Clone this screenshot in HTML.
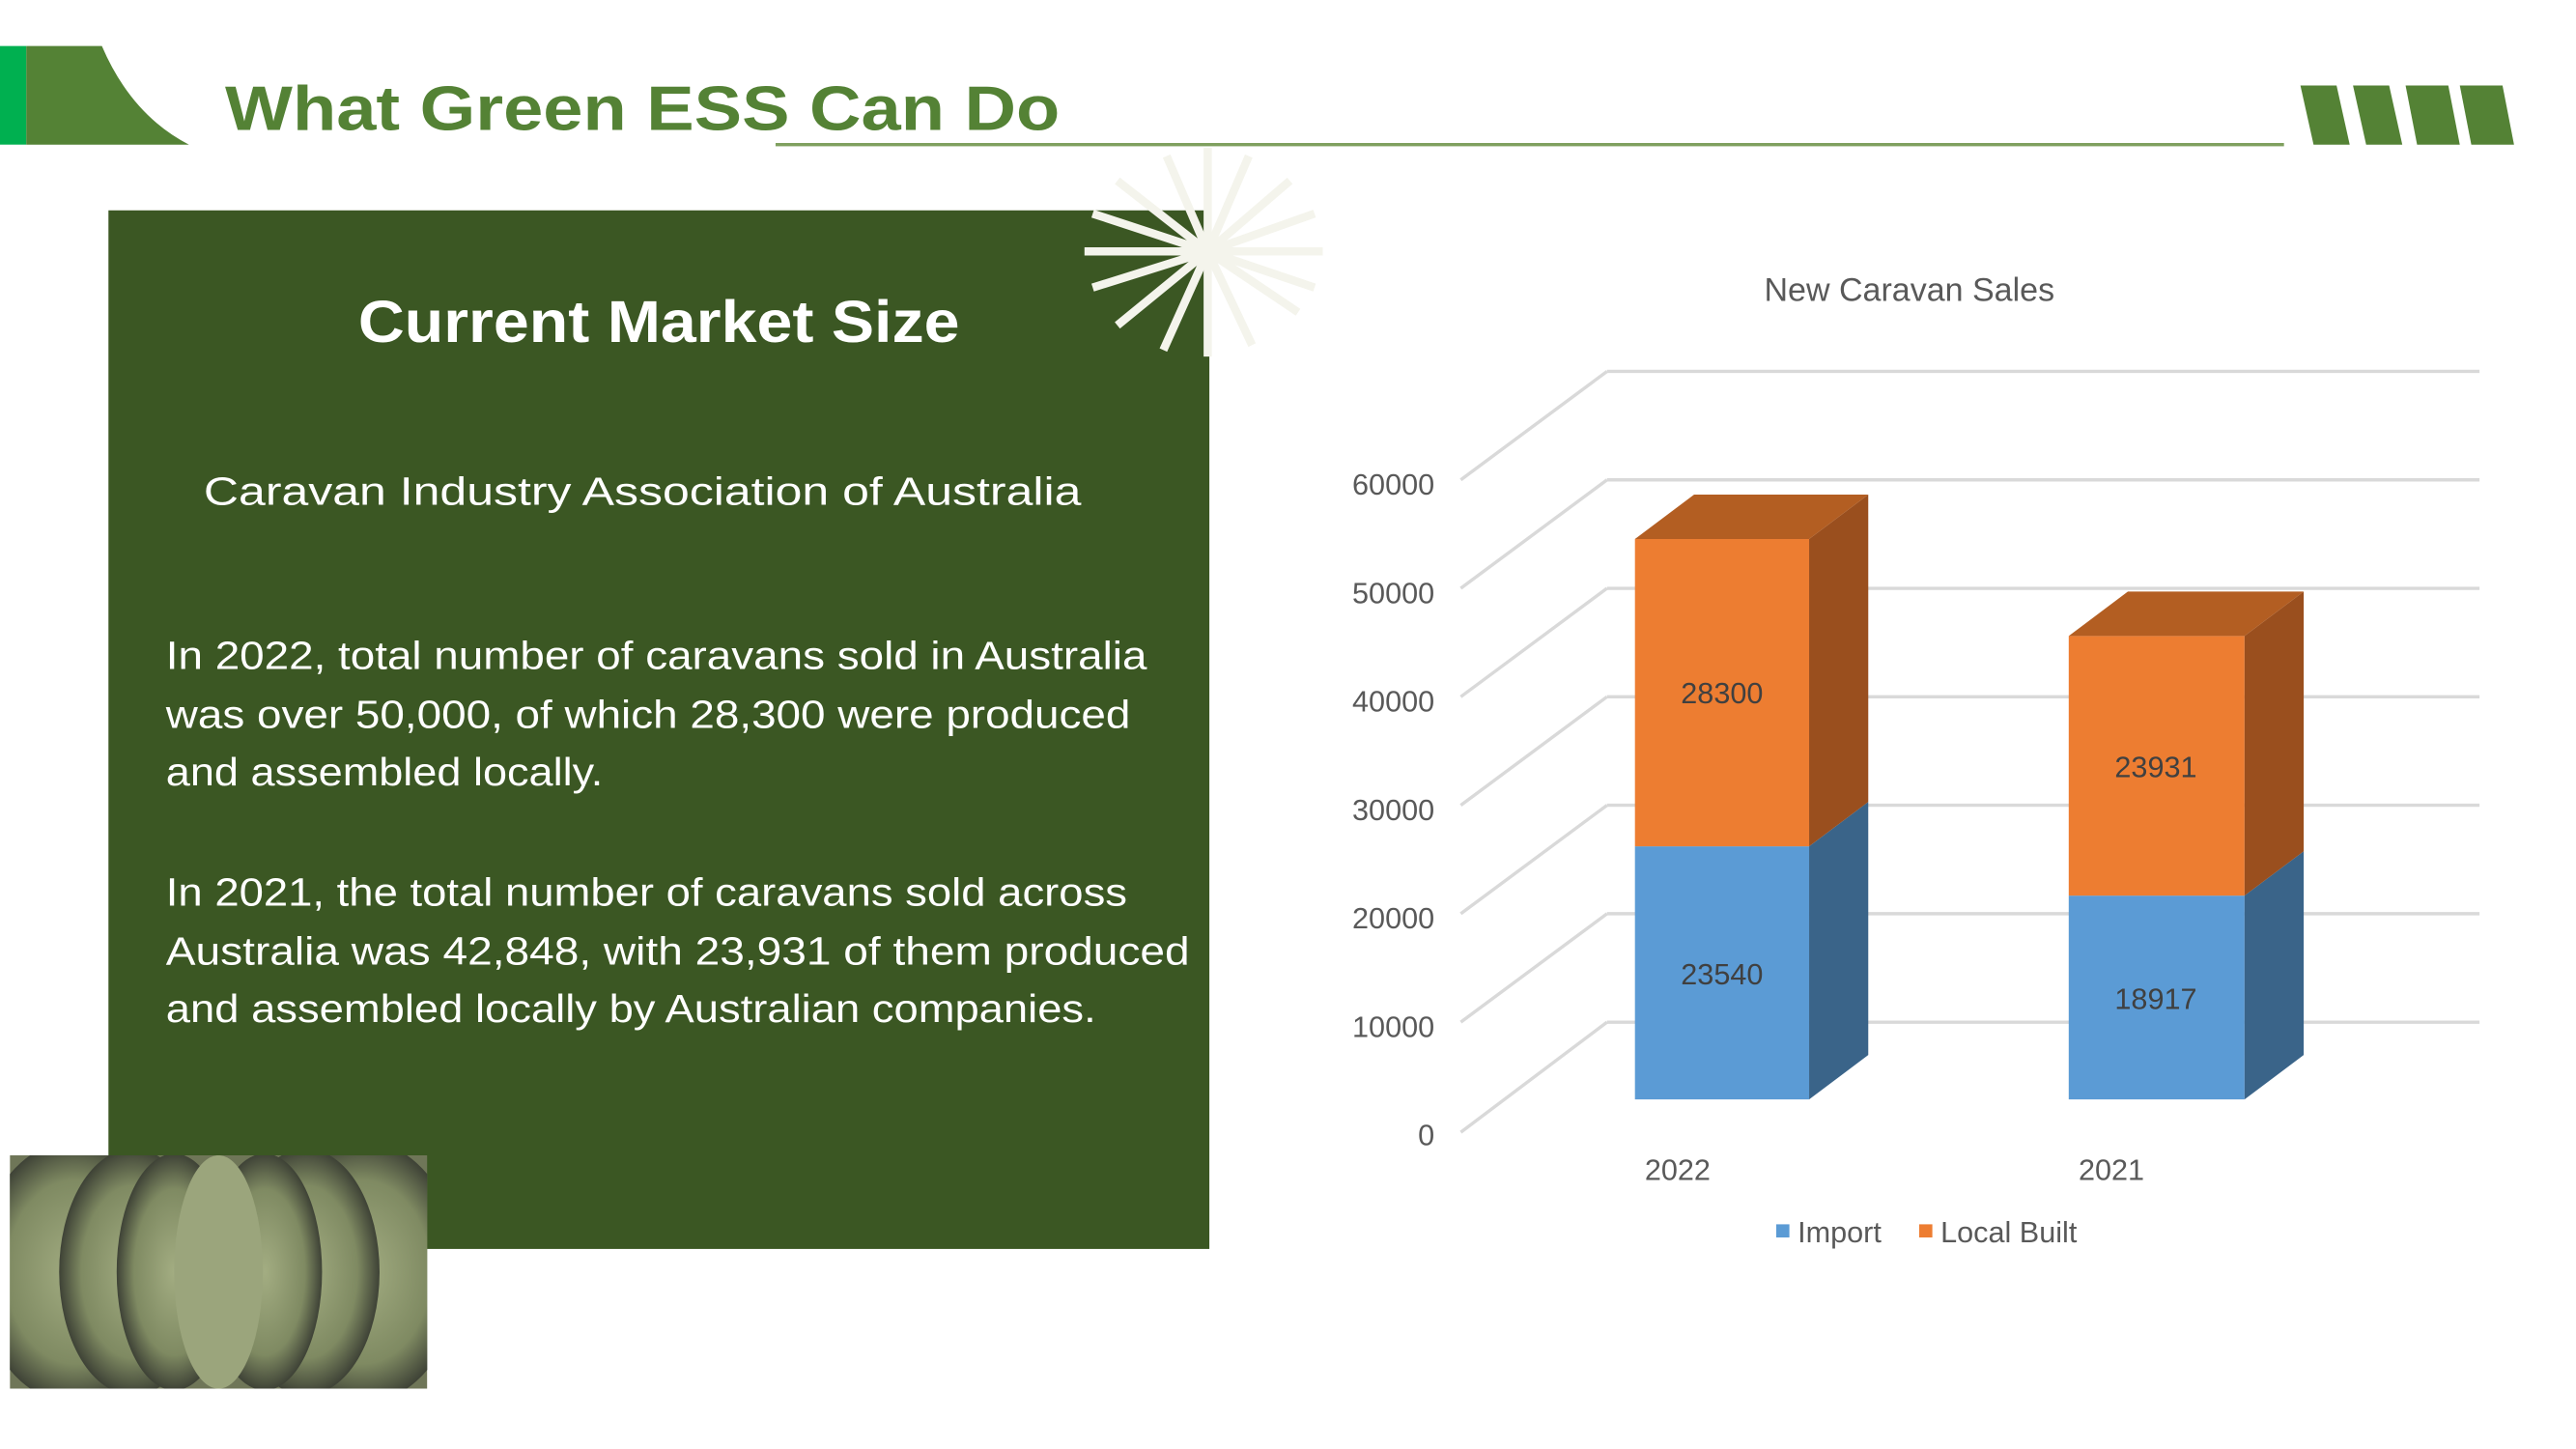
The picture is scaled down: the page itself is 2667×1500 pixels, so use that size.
<!DOCTYPE html>
<html><head><meta charset="utf-8"><style>
html,body{margin:0;padding:0;background:#fff;overflow:hidden}
#w{width:1568px;height:882px;transform:scale(1.7012);transform-origin:0 0}
svg text{font-family:"Liberation Sans",sans-serif}
</style></head><body><div id="w">
<svg width="1568" height="882" viewBox="0 0 1568 882" xmlns="http://www.w3.org/2000/svg">
<defs>
<radialGradient id="pg" cx="50%" cy="50%" r="50%"><stop offset="0" stop-color="#a3ad82"/><stop offset="0.7" stop-color="#7f8a62"/><stop offset="1" stop-color="#3e4236"/></radialGradient>
</defs>
<rect x="0" y="28" width="16" height="60" fill="#00b050"/>
<path d="M16 28 L62 28 Q80 70 115 88 L16 88 Z" fill="#548235"/>
<text x="137" y="79" font-size="38" font-weight="bold" fill="#548235" textLength="508" lengthAdjust="spacingAndGlyphs">What Green ESS Can Do</text>
<rect x="472" y="87" width="918" height="2" fill="#7fa05f"/>
<g fill="#548235">
<path d="M1400 52 L1422 52 L1430 88 L1408 88 Z"/>
<path d="M1432 52 L1454 52 L1462 88 L1440 88 Z"/>
<path d="M1464 52 L1490 52 L1497 88 L1471 88 Z"/>
<path d="M1497 52 L1523 52 L1530 88 L1504 88 Z"/>
</g>
<rect x="66" y="128" width="670" height="632" fill="#3b5723"/>
<g stroke="#f4f4ec" stroke-width="5">
<line x1="735" y1="90" x2="735" y2="217"/>
<line x1="660" y1="153" x2="805" y2="153"/>
<line x1="665" y1="130" x2="735" y2="153"/>
<line x1="680" y1="110" x2="735" y2="153"/>
<line x1="710" y1="95" x2="735" y2="153"/>
<line x1="760" y1="95" x2="735" y2="153"/>
<line x1="785" y1="110" x2="735" y2="153"/>
<line x1="800" y1="130" x2="735" y2="153"/>
<line x1="665" y1="175" x2="735" y2="153"/>
<line x1="680" y1="198" x2="735" y2="153"/>
<line x1="708" y1="213" x2="735" y2="153"/>
<line x1="762" y1="210" x2="735" y2="153"/>
<line x1="790" y1="190" x2="735" y2="153"/>
<line x1="800" y1="175" x2="735" y2="153"/>
</g>
<text x="401" y="208" font-size="36" font-weight="bold" fill="#fff" text-anchor="middle" textLength="366" lengthAdjust="spacingAndGlyphs">Current Market Size</text>
<text x="391" y="307" font-size="24" fill="#fff" text-anchor="middle" textLength="534" lengthAdjust="spacingAndGlyphs">Caravan Industry Association of Australia</text>
<g font-size="24" fill="#fff">
<text x="101" y="407" textLength="597" lengthAdjust="spacingAndGlyphs">In 2022, total number of caravans sold in Australia</text>
<text x="101" y="443" textLength="587" lengthAdjust="spacingAndGlyphs">was over 50,000, of which 28,300 were produced</text>
<text x="101" y="478" textLength="266" lengthAdjust="spacingAndGlyphs">and assembled locally.</text>
<text x="101" y="551" textLength="585" lengthAdjust="spacingAndGlyphs">In 2021, the total number of caravans sold across</text>
<text x="101" y="587" textLength="623" lengthAdjust="spacingAndGlyphs">Australia was 42,848, with 23,931 of them produced</text>
<text x="101" y="622" textLength="566" lengthAdjust="spacingAndGlyphs">and assembled locally by Australian companies.</text>
</g>
<svg x="6" y="703" width="254" height="142">
<rect width="254" height="142" fill="#6f7658"/>
<ellipse cx="40" cy="71" rx="60" ry="80" fill="url(#pg)"/>
<ellipse cx="214" cy="71" rx="60" ry="80" fill="url(#pg)"/>
<ellipse cx="75" cy="71" rx="45" ry="75" fill="url(#pg)"/>
<ellipse cx="180" cy="71" rx="45" ry="75" fill="url(#pg)"/>
<ellipse cx="100" cy="71" rx="35" ry="72" fill="url(#pg)"/>
<ellipse cx="155" cy="71" rx="35" ry="72" fill="url(#pg)"/>
<ellipse cx="127" cy="71" rx="27" ry="71" fill="#9ba57c"/>
</svg>
<text x="1162" y="183" font-size="20" fill="#595959" text-anchor="middle">New Caravan Sales</text>
<g stroke="#d9d9d9" stroke-width="2" fill="none">
<path d="M978 226 H1509 M978 292 H1509 M978 358 H1509 M978 424 H1509 M978 490 H1509 M978 556 H1509 M978 622 H1509"/>
<path d="M889 292 L978 226 M889 358 L978 292 M889 424 L978 358 M889 490 L978 424 M889 556 L978 490 M889 622 L978 556 M889 689 L978 622"/>
</g>
<g font-size="18" fill="#595959" text-anchor="end">
<text x="873" y="301">60000</text><text x="873" y="367">50000</text><text x="873" y="433">40000</text>
<text x="873" y="499">30000</text><text x="873" y="565">20000</text><text x="873" y="631">10000</text><text x="873" y="697">0</text>
</g>
<rect x="995" y="515" width="106" height="154" fill="#5b9bd5"/>
<path d="M1101 515 L1137 488 L1137 642 L1101 669 Z" fill="#3a6489"/>
<rect x="995" y="328" width="106" height="187" fill="#ed7d31"/>
<path d="M1101 328 L1137 301 L1137 488 L1101 515 Z" fill="#9a4f1e"/>
<path d="M995 328 L1031 301 L1137 301 L1101 328 Z" fill="#b35e22"/>
<rect x="1259" y="545" width="107" height="124" fill="#5b9bd5"/>
<path d="M1366 545 L1402 518 L1402 642 L1366 669 Z" fill="#3a6489"/>
<rect x="1259" y="387" width="107" height="158" fill="#ed7d31"/>
<path d="M1366 387 L1402 360 L1402 518 L1366 545 Z" fill="#9a4f1e"/>
<path d="M1259 387 L1295 360 L1402 360 L1366 387 Z" fill="#b35e22"/>
<g font-size="18" fill="#404040" text-anchor="middle">
<text x="1048" y="428">28300</text><text x="1048" y="599">23540</text>
<text x="1312" y="473">23931</text><text x="1312" y="614">18917</text>
</g>
<g font-size="18" fill="#595959" text-anchor="middle">
<text x="1021" y="718">2022</text><text x="1285" y="718">2021</text>
</g>
<rect x="1081" y="745" width="8" height="8" fill="#5b9bd5"/>
<text x="1094" y="756" font-size="18" fill="#595959">Import</text>
<rect x="1168" y="745" width="8" height="8" fill="#ed7d31"/>
<text x="1181" y="756" font-size="18" fill="#595959">Local Built</text>
</svg>
</div></body></html>
